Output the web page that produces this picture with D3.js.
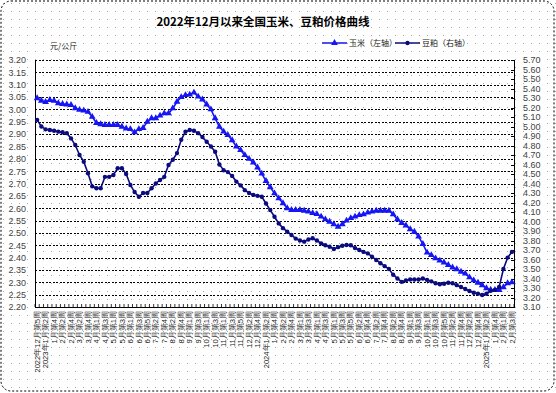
<!DOCTYPE html>
<html><head><meta charset="utf-8">
<script src="https://cdn.jsdelivr.net/npm/d3@7"></script>
<style>
html,body{margin:0;padding:0;background:#fff;}
svg{display:block;font-family:"Noto Sans CJK SC","Liberation Sans",sans-serif;}
</style></head>
<body><svg id="c" width="556" height="393"></svg>
<script>
// ---- data ----
const monthWeeks = [
 [2022,12,5,5],
 [2023,1,1,4],[2023,2,1,4],[2023,3,1,5],[2023,4,1,4],[2023,5,1,4],[2023,6,1,5],
 [2023,7,1,4],[2023,8,1,5],[2023,9,1,4],[2023,10,1,4],[2023,11,1,5],[2023,12,1,4],
 [2024,1,1,4],[2024,2,1,5],[2024,3,1,4],[2024,4,1,4],[2024,5,1,5],[2024,6,1,4],
 [2024,7,1,4],[2024,8,1,5],[2024,9,1,4],[2024,10,1,5],[2024,11,1,4],[2024,12,1,4],
 [2025,1,1,5],[2025,2,1,3]
];
const corn = [
 3.045,3.035,3.03,3.038,3.035,3.025,3.022,3.02,3.018,3.005,
 2.998,2.995,2.99,2.97,2.945,2.94,2.937,2.937,2.937,2.937,
 2.93,2.923,2.92,2.907,2.92,2.925,2.95,2.964,2.964,2.975,
 2.984,2.984,3.004,3.031,3.05,3.058,3.06,3.068,3.052,3.04,
 3.02,3.0,2.964,2.93,2.91,2.896,2.875,2.85,2.835,2.815,
 2.80,2.785,2.765,2.74,2.71,2.685,2.66,2.64,2.62,2.60,
 2.593,2.593,2.593,2.59,2.586,2.58,2.576,2.566,2.555,2.545,
 2.535,2.525,2.535,2.55,2.56,2.566,2.572,2.575,2.582,2.586,
 2.59,2.59,2.59,2.59,2.575,2.555,2.54,2.53,2.515,2.505,
 2.485,2.455,2.42,2.41,2.397,2.388,2.38,2.37,2.36,2.353,
 2.343,2.335,2.32,2.308,2.298,2.288,2.276,2.27,2.269,2.269,
 2.28,2.296,2.30
];
const meal = [
 5.07,5.00,4.97,4.963,4.955,4.946,4.94,4.93,4.875,4.805,
 4.70,4.63,4.507,4.37,4.35,4.35,4.47,4.47,4.49,4.56,
 4.56,4.50,4.384,4.31,4.26,4.30,4.30,4.35,4.40,4.437,
 4.47,4.595,4.65,4.72,4.86,4.946,4.963,4.955,4.93,4.89,
 4.84,4.79,4.735,4.60,4.54,4.52,4.48,4.42,4.38,4.33,
 4.30,4.28,4.27,4.26,4.19,4.12,4.05,3.98,3.93,3.893,
 3.858,3.82,3.80,3.788,3.81,3.823,3.80,3.77,3.75,3.735,
 3.71,3.73,3.745,3.753,3.75,3.72,3.70,3.68,3.665,3.63,
 3.595,3.56,3.53,3.50,3.44,3.40,3.365,3.38,3.39,3.39,
 3.39,3.40,3.385,3.37,3.35,3.34,3.345,3.356,3.35,3.33,
 3.31,3.29,3.268,3.25,3.24,3.226,3.24,3.27,3.28,3.31,
 3.50,3.62,3.68
];
const leftTicks = [2.20,2.25,2.30,2.35,2.40,2.45,2.50,2.55,2.60,2.65,2.70,2.75,2.80,2.85,2.90,2.95,3.00,3.05,3.10,3.15,3.20];
const rightTicks = [3.10,3.20,3.30,3.40,3.50,3.60,3.70,3.80,3.90,4.00,4.10,4.20,4.30,4.40,4.50,4.60,4.70,4.80,4.90,5.00,5.10,5.20,5.30,5.40,5.50,5.60,5.70];
const title = "2022年12月以来全国玉米、豆粕价格曲线";
const unit = "元/公斤";
const seriesNames = ["玉米（左轴）","豆粕（右轴）"];
const colors = ["#1515f5","#0b0b80"];

// build categories
const categories = [];
monthWeeks.forEach(([y,m,a,b])=>{
  for(let w=a;w<=b;w++){
    const pre = (categories.length===0 || (m===1 && w<=2)) ? y+"年" : "";
    categories.push(pre+m+"月第"+w+"周");
  }
});

// ---- layout ----
const svg = d3.select("#c");
const L=35,R=514,T=60,B=307;

const defs = svg.append("defs");
const pat = defs.append("pattern").attr("id","dots").attr("width",8).attr("height",8)
  .attr("patternUnits","userSpaceOnUse");
pat.append("rect").attr("x",3).attr("y",3).attr("width",1).attr("height",1).attr("fill","#a8a8a8");

svg.append("rect").attr("width",556).attr("height",393).attr("fill","#fff");
svg.append("rect").attr("width",556).attr("height",393).attr("fill","url(#dots)");
svg.append("rect").attr("x",1).attr("y",1).attr("width",553).attr("height",390)
  .attr("rx",10).attr("fill","none").attr("stroke","#000").attr("stroke-width",1)
  .attr("stroke-dasharray","2,2");

const idx = d3.range(categories.length);
const x = d3.scaleBand().domain(idx).range([L,R]).padding(0);
const cx = i => x(i)+x.bandwidth()/2;
const yL = d3.scaleLinear().domain([2.2,3.2]).range([B,T]);
const yR = d3.scaleLinear().domain([3.1,5.7]).range([B,T]);

// gridlines
const grid = svg.append("g").attr("transform",`translate(${L},0)`)
  .call(d3.axisLeft(yL).tickValues(leftTicks).tickSize(-(R-L)).tickFormat(""));
grid.select(".domain").remove();
grid.selectAll("line").attr("stroke","#000").attr("stroke-dasharray","2,1.5")
  .attr("shape-rendering","crispEdges");

// left axis
const ga = svg.append("g").attr("transform",`translate(${L},0)`)
  .call(d3.axisLeft(yL).tickValues(leftTicks).tickSize(0).tickPadding(9).tickFormat(d3.format(".2f")));
ga.select(".domain").attr("stroke","#000").attr("shape-rendering","crispEdges");
ga.selectAll("text").attr("font-size",9).attr("fill","#444").attr("font-family","Liberation Sans, Arial, sans-serif");

// right axis
const gr = svg.append("g").attr("transform",`translate(${R},0)`)
  .call(d3.axisRight(yR).tickValues(rightTicks).tickSize(-3).tickPadding(9).tickFormat(d3.format(".2f")));
gr.select(".domain").attr("stroke","#000").attr("shape-rendering","crispEdges");
gr.selectAll("line").attr("stroke","#000").attr("shape-rendering","crispEdges");
gr.selectAll("text").attr("font-size",9).attr("fill","#444").attr("font-family","Liberation Sans, Arial, sans-serif");

// bottom axis
const gb = svg.append("g").attr("transform",`translate(0,${B})`)
  .call(d3.axisBottom(x).tickValues(idx.filter(i=>i%2===0)).tickSize(0).tickFormat(i=>categories[i]));
gb.select(".domain").attr("stroke","#000").attr("shape-rendering","crispEdges");
gb.selectAll("text").attr("font-size",7.6).attr("fill","#222")
  .attr("text-anchor","end").attr("dy","0.35em")
  .attr("transform","translate(0,4) rotate(-90)").attr("x",0).attr("y",0);
// category boundary ticks
svg.append("g").selectAll("line").data(d3.range(categories.length+1)).join("line")
  .attr("x1",i=>L+i*x.step()).attr("x2",i=>L+i*x.step())
  .attr("y1",B).attr("y2",B-3).attr("stroke","#000").attr("stroke-width",0.8);

// series
const lineL = d3.line().x((d,i)=>cx(i)).y(d=>yL(d));
const lineR = d3.line().x((d,i)=>cx(i)).y(d=>yR(d));
svg.append("path").datum(corn).attr("d",lineL).attr("fill","none").attr("stroke",colors[0]).attr("stroke-width",1.6);
svg.append("path").datum(meal).attr("d",lineR).attr("fill","none").attr("stroke",colors[1]).attr("stroke-width",1.6);
const tri = d3.symbol().type(d3.symbolTriangle).size(20);
svg.append("g").selectAll("path").data(corn).join("path")
  .attr("d",tri).attr("transform",(d,i)=>`translate(${cx(i)},${yL(d)})`).attr("fill",colors[0]);
svg.append("g").selectAll("circle").data(meal).join("circle")
  .attr("cx",(d,i)=>cx(i)).attr("cy",d=>yR(d)).attr("r",2.2).attr("fill",colors[1]);

// title, unit
svg.append("text").attr("x",263).attr("y",26).attr("text-anchor","middle")
  .attr("font-size",11.5).attr("font-weight","bold").attr("fill","#000").text(title);
svg.append("text").attr("x",50).attr("y",49).attr("font-size",8).attr("fill","#222").text(unit);

// legend
const lg = [{x:322,t:seriesNames[0],c:colors[0],s:"tri"},{x:395,t:seriesNames[1],c:colors[1],s:"dot"}];
lg.forEach(o=>{
  svg.append("line").attr("x1",o.x).attr("x2",o.x+25).attr("y1",43).attr("y2",43).attr("stroke",o.c).attr("stroke-width",1.5);
  if(o.s==="tri") svg.append("path").attr("d",tri).attr("transform",`translate(${o.x+12.5},43)`).attr("fill",o.c);
  else svg.append("circle").attr("cx",o.x+12.5).attr("cy",43).attr("r",2.2).attr("fill",o.c);
  svg.append("text").attr("x",o.x+27).attr("y",46).attr("font-size",8).attr("fill","#222").text(o.t);
});
</script></body></html>
